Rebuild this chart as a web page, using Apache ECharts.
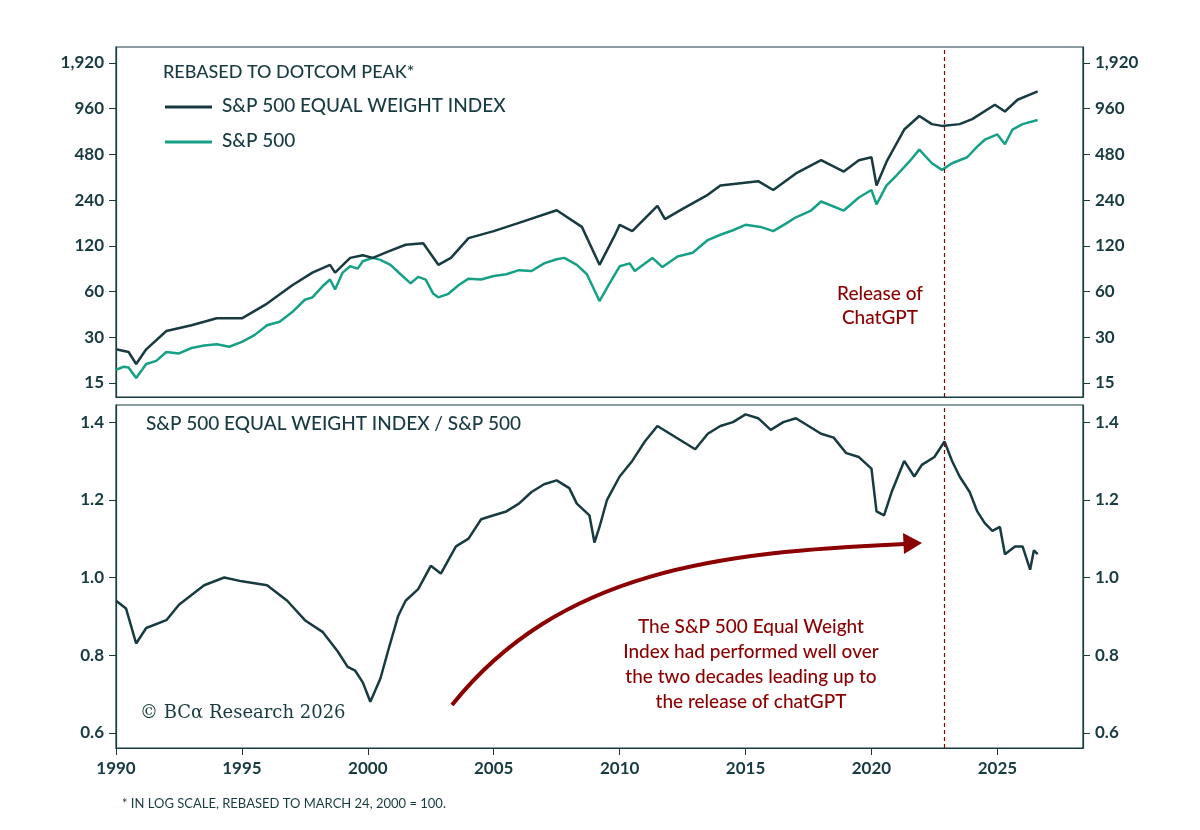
<!DOCTYPE html><html><head><meta charset="utf-8">
<script src="https://cdn.jsdelivr.net/npm/echarts@6/dist/echarts.min.js"></script>
<style>body{margin:0;background:#fff}#c{width:1200px;height:830px}</style></head><body><div id="c"></div>
<script>
const spPts=[[1990,18.3],[1990.3,19.2],[1990.5,19],[1990.8,16.2],[1991.2,20],[1991.6,21],[1992,24],[1992.5,23.5],[1993,25.5],[1993.5,26.5],[1994,27],[1994.5,26],[1995,28],[1995.5,31],[1996,36],[1996.5,38],[1997,44],[1997.5,53],[1997.8,55],[1998.2,65],[1998.5,72],[1998.7,62],[1999,80],[1999.3,88],[1999.6,85],[1999.8,95],[2000.2,100],[2000.5,97],[2000.9,90],[2001.3,78],[2001.7,68],[2002,75],[2002.3,72],[2002.6,58],[2002.8,55],[2003.2,58],[2003.6,66],[2004,73],[2004.5,72],[2005,76],[2005.5,78],[2006,83],[2006.5,82],[2007,92],[2007.5,98],[2007.8,100],[2008.3,90],[2008.7,78],[2009.2,52],[2009.6,68],[2010,88],[2010.4,92],[2010.6,82],[2011.3,100],[2011.7,87],[2012.3,102],[2012.9,108],[2013.5,131],[2014,142],[2014.5,152],[2015,165],[2015.6,160],[2016.1,150],[2016.6,168],[2017,185],[2017.6,205],[2018,235],[2018.9,205],[2019.5,250],[2020,280],[2020.2,225],[2020.6,300],[2021,350],[2021.5,430],[2021.9,516],[2022.4,420],[2022.8,380],[2023.2,420],[2023.8,460],[2024.2,540],[2024.5,600],[2025,650],[2025.3,560],[2025.6,700],[2026,760],[2026.6,810]];
const ewPts=[[1990,25],[1990.5,24],[1990.8,20],[1991.2,25],[1992,33],[1993,36],[1994,40],[1995,40],[1996,50],[1997,66],[1997.8,80],[1998.5,90],[1998.7,80],[1999.3,100],[1999.8,104],[2000.2,100],[2000.8,110],[2001.5,122],[2002.2,125],[2002.8,90],[2003.3,100],[2004,135],[2005,150],[2006,170],[2007.5,206],[2008.5,160],[2009.2,90],[2009.8,140],[2010,165],[2010.5,150],[2011.5,220],[2011.8,180],[2012.5,210],[2013.5,260],[2014,300],[2015.5,320],[2016.1,280],[2017,360],[2018,440],[2018.9,370],[2019.5,440],[2020,460],[2020.2,300],[2020.6,430],[2021.3,700],[2021.9,860],[2022.4,760],[2022.8,740],[2023.5,760],[2024,820],[2024.9,1020],[2025.3,920],[2025.8,1100],[2026.6,1250]];
const ratioPts=[[1990,0.94],[1990.4,0.92],[1990.8,0.83],[1991.2,0.87],[1992,0.89],[1992.5,0.93],[1993.5,0.98],[1994.3,1.0],[1995,0.99],[1996,0.98],[1996.8,0.94],[1997.5,0.89],[1998.2,0.86],[1998.8,0.81],[1999.2,0.77],[1999.5,0.76],[1999.8,0.73],[2000.1,0.68],[2000.5,0.74],[2000.8,0.81],[2001.2,0.9],[2001.5,0.94],[2002,0.97],[2002.5,1.03],[2002.9,1.01],[2003.5,1.08],[2004,1.1],[2004.5,1.15],[2005,1.16],[2005.5,1.17],[2006,1.19],[2006.5,1.22],[2007,1.24],[2007.5,1.25],[2008,1.23],[2008.3,1.19],[2008.8,1.16],[2009,1.09],[2009.2,1.13],[2009.5,1.2],[2010,1.26],[2010.5,1.3],[2011,1.35],[2011.5,1.39],[2012,1.37],[2012.5,1.35],[2013,1.33],[2013.5,1.37],[2014,1.39],[2014.5,1.4],[2015,1.42],[2015.5,1.41],[2016,1.38],[2016.5,1.4],[2017,1.41],[2017.5,1.39],[2018,1.37],[2018.5,1.36],[2019,1.32],[2019.5,1.31],[2020,1.28],[2020.2,1.17],[2020.5,1.16],[2020.8,1.22],[2021.3,1.3],[2021.7,1.26],[2022,1.29],[2022.5,1.31],[2022.9,1.35],[2023.2,1.3],[2023.5,1.26],[2023.9,1.22],[2024.2,1.17],[2024.5,1.14],[2024.8,1.12],[2025.1,1.13],[2025.3,1.06],[2025.7,1.08],[2026,1.08],[2026.3,1.02],[2026.45,1.07],[2026.6,1.06]];
const topTicks=[15,30,60,120,240,480,960,1920];
const botTicks=[0.6,0.8,1.0,1.2,1.4];
const xTicks=[1990,1995,2000,2005,2010,2015,2020,2025];
const chatGPT=2022.9;
const L2=v=>Math.log2(v/15);
const C='#173b40',G='#16a085',R='#8b0000',F='Lato';
const ax={color:C,fontFamily:F,fontSize:17,fontWeight:'bold'};
function yA(grid,min,max,cv,fmt,pos){return {type:'value',gridIndex:grid,min,max,position:pos,
 axisLine:{show:true,lineStyle:{color:C,width:1.2}},splitLine:{show:false},
 axisTick:{show:true,inside:false,length:7,customValues:cv,lineStyle:{color:C}},
 axisLabel:Object.assign({customValues:cv,formatter:fmt,margin:12},ax)};}
const topCv=topTicks.map(L2), f1=v=>Math.round(15*Math.pow(2,v)).toLocaleString('en-US');
const f2=v=>v.toFixed(1);
function xA(grid,show){return {type:'value',gridIndex:grid,min:1990,max:2028.4,
 axisLine:{show:true,onZero:false,lineStyle:{color:C,width:1.2}},splitLine:{show:false},
 axisTick:{show,length:7,customValues:xTicks,lineStyle:{color:C}},
 axisLabel:Object.assign({show,customValues:xTicks,margin:12,formatter:v=>String(Math.round(v))},ax)};}
const chart=echarts.init(document.getElementById('c'));
chart.setOption({animation:false,
 grid:[{left:116,right:117,top:47,height:350,show:true,borderColor:C,borderWidth:1.2},
       {left:116,right:117,top:405,height:343,show:true,borderColor:C,borderWidth:1.2}],
 xAxis:[xA(0,false),xA(1,true)],
 yAxis:[yA(0,-0.306,7.35,topCv,f1,'left'),yA(0,-0.306,7.35,topCv,f1,'right'),
        yA(1,0.561,1.444,botTicks,f2,'left'),yA(1,0.561,1.444,botTicks,f2,'right')],
 series:[
  {type:'line',xAxisIndex:0,yAxisIndex:0,showSymbol:false,data:spPts.map(p=>[p[0],L2(p[1])]),lineStyle:{color:G,width:2.5},z:2},
  {type:'line',xAxisIndex:0,yAxisIndex:0,showSymbol:false,data:ewPts.map(p=>[p[0],L2(p[1])]),lineStyle:{color:C,width:2.5},z:3,
   markLine:{silent:true,symbol:'none',label:{show:false},lineStyle:{color:R,type:[4,3],width:1.2},data:[{xAxis:chatGPT}]}},
  {type:'line',xAxisIndex:1,yAxisIndex:2,showSymbol:false,data:ratioPts,lineStyle:{color:C,width:2.5},
   markLine:{silent:true,symbol:'none',label:{show:false},lineStyle:{color:R,type:[4,3],width:1.2},data:[{xAxis:chatGPT}]}}
 ],
 graphic:[
  {type:'text',left:163,top:63,style:{text:'REBASED TO DOTCOM PEAK*',fill:C,font:'500 18px Lato'}},
  {type:'line',shape:{x1:165,y1:107,x2:212,y2:107},style:{stroke:C,lineWidth:3}},
  {type:'text',left:222,top:96,style:{text:'S&P 500 EQUAL WEIGHT INDEX',fill:C,font:'500 19px Lato'}},
  {type:'line',shape:{x1:165,y1:142,x2:212,y2:142},style:{stroke:G,lineWidth:3}},
  {type:'text',left:222,top:131,style:{text:'S&P 500',fill:C,font:'500 19px Lato'}},
  {type:'text',x:880,y:282,style:{text:'Release of\nChatGPT',fill:R,font:'500 19px Lato',align:'center',lineHeight:24}},
  {type:'text',left:146,top:414,style:{text:'S&P 500 EQUAL WEIGHT INDEX / S&P 500',fill:C,font:'500 19px Lato'}},
  {type:'text',x:751,y:614,style:{text:'The S&P 500 Equal Weight\nIndex had performed well over\nthe two decades leading up to\nthe release of chatGPT',fill:R,font:'500 19px Lato',align:'center',lineHeight:25}},
  {type:'bezierCurve',shape:{x1:452,y1:705,cpx1:560,cpy1:570,cpx2:720,cpy2:552,x2:905,y2:544},style:{stroke:R,lineWidth:4,fill:null}},
  {type:'polygon',shape:{points:[[922,543],[903,533],[904,554]]},style:{fill:R}},
  {type:'text',left:140,top:704,style:{text:'© BCα Research 2026',fill:C,font:'18px "DejaVu Serif"'}},
  {type:'text',left:122,top:797,style:{text:'* IN LOG SCALE, REBASED TO MARCH 24, 2000 = 100.',fill:C,font:'13px Lato'}}
 ]});
</script></body></html>
